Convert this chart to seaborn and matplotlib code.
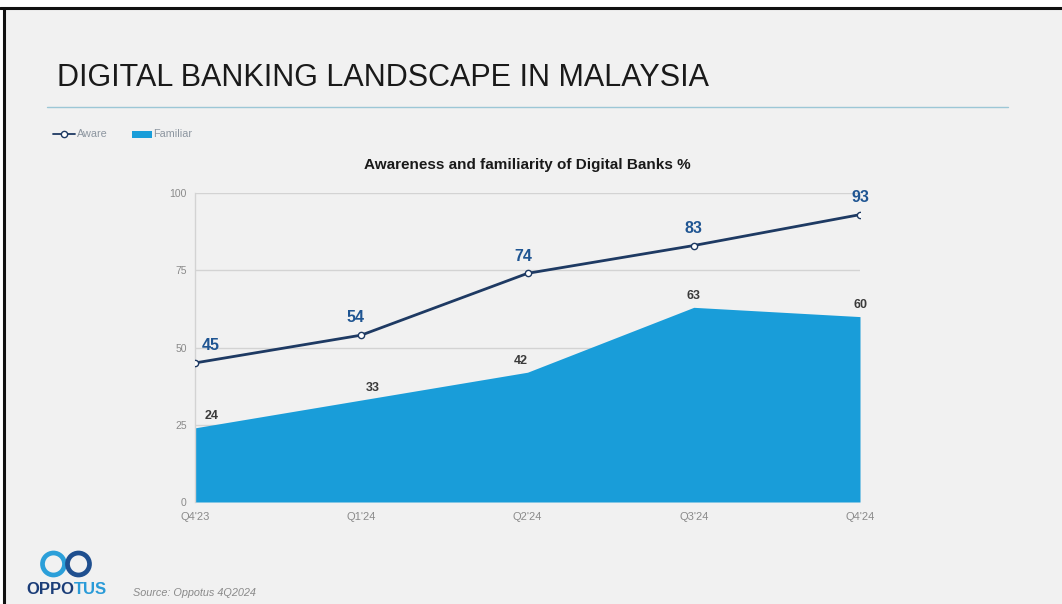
import matplotlib
matplotlib.use("Agg")
import matplotlib.pyplot as plt
import seaborn as sns
import pandas as pd
from matplotlib.patches import Circle, Rectangle
from matplotlib.lines import Line2D
from matplotlib.transforms import IdentityTransform

# Survey waves and scores (%)
quarters = ["Q4'23", "Q1'24", "Q2'24", "Q3'24", "Q4'24"]
aware = [45, 54, 74, 83, 93]
familiar = [24, 33, 42, 63, 60]
y_ticks = [0, 25, 50, 75, 100]

BG = "#f1f1f1"
NAVY_LINE = "#1e3a63"
AWARE_TXT = "#1f5592"
FILL = "#199dd9"
GRID = "#d3d3d3"
TICK_TXT = "#8a8a8a"

W, H = 1062, 604

sns.set_theme(style="white")
plt.rcParams["font.family"] = ["Liberation Sans", "DejaVu Sans"]

df = pd.DataFrame({"quarter": quarters, "x": range(len(quarters)),
                   "Aware": aware, "Familiar": familiar})

fig = plt.figure(figsize=(W / 100, H / 100), dpi=100)
fig.patch.set_facecolor(BG)


def fx(px):
    return px / W


def fy(py):
    return 1 - py / H


# slide frame: white strip along the top and left, dark rule inside it
fig.add_artist(Rectangle((0, fy(7)), 1, 7 / H, transform=fig.transFigure,
                         facecolor="white", edgecolor="none", zorder=0))
fig.add_artist(Rectangle((0, 0), fx(3), 1, transform=fig.transFigure,
                         facecolor="white", edgecolor="none", zorder=0))
fig.add_artist(Line2D([0, 1], [fy(8), fy(8)], transform=fig.transFigure,
                      color="#111111", lw=2.2))
fig.add_artist(Line2D([fx(4), fx(4)], [0, fy(8)], transform=fig.transFigure,
                      color="#111111", lw=2.2))

# slide heading and rule
fig.text(fx(57), fy(78), "DIGITAL BANKING LANDSCAPE IN MALAYSIA",
         fontsize=22, color="#1a1a1a", va="center", ha="left")
fig.add_artist(Line2D([fx(47), fx(1008)], [fy(107), fy(107)],
                      transform=fig.transFigure, color="#9cc7d6", lw=1.0))

# legend
ly = fy(134)
fig.add_artist(Line2D([fx(53), fx(75)], [ly, ly], transform=fig.transFigure,
                      color=NAVY_LINE, lw=1.3))
fig.add_artist(Line2D([fx(64)], [ly], transform=fig.transFigure, color=NAVY_LINE,
                      marker="o", markersize=4.5, markerfacecolor="white", lw=0))
fig.text(fx(77), ly, "Aware", fontsize=7.8, color="#8d96a0", va="center")
fig.add_artist(Rectangle((fx(132), ly - 3.5 / H), 20 / W, 7 / H,
                         transform=fig.transFigure, facecolor=FILL, edgecolor="none"))
fig.text(fx(153), ly, "Familiar", fontsize=7.8, color="#8d96a0", va="center")

# chart axes
ax = fig.add_axes([fx(195), fy(502), (860 - 195) / W, (502 - 193) / H])
ax.set_facecolor(BG)
ax.set_xlim(0, len(quarters) - 1)
ax.set_ylim(0, 100)
ax.margins(0)

for t in y_ticks[1:]:
    ax.axhline(t, color=GRID, lw=1.0, zorder=0)

ax.fill_between(df["x"], 0, df["Familiar"], color=FILL, lw=0, zorder=2)
sns.lineplot(data=df, x="x", y="Aware", ax=ax, color=NAVY_LINE, lw=2.0,
             marker="o", markersize=4.5, markerfacecolor="white",
             markeredgecolor=NAVY_LINE, markeredgewidth=1.0, zorder=3)

# value labels
aware_dx = [11, -4, -3, 0, 0]
for i, v in enumerate(aware):
    ax.annotate(str(v), (i, v), xytext=(aware_dx[i], 7), textcoords="offset points",
                ha="center", va="bottom", fontsize=11.5, fontweight="bold", color=AWARE_TXT)
fam_dx = [12, 8, -5, 0, 0]
for i, v in enumerate(familiar):
    ax.annotate(str(v), (i, v), xytext=(fam_dx[i], 4), textcoords="offset points",
                ha="center", va="bottom", fontsize=9, fontweight="bold", color="#3a3a3a")

ax.set_xticks(range(len(quarters)))
ax.set_xticklabels(quarters)
ax.set_yticks(y_ticks)
ax.set_yticklabels([str(t) for t in y_ticks])
ax.tick_params(axis="both", length=0, labelsize=8, labelcolor=TICK_TXT)
ax.tick_params(axis="y", pad=6, labelsize=7.5)
ax.tick_params(axis="x", pad=7)
ax.set_xlabel("")
ax.set_ylabel("")
for side in ["top", "right", "bottom"]:
    ax.spines[side].set_visible(False)
ax.spines["left"].set_color(GRID)
ax.spines["left"].set_linewidth(1.0)

fig.text(fx(527), fy(165), "Awareness and familiarity of Digital Banks %",
         ha="center", va="center", fontsize=11, fontweight="bold", color="#1a1a1a")

# company mark: two linked rings above the word mark
fig.add_artist(Circle((53.5, H - 564), 11, transform=IdentityTransform(),
                      fill=False, edgecolor="#2b9fd9", lw=3.4))
fig.add_artist(Circle((78.5, H - 564), 11, transform=IdentityTransform(),
                      fill=False, edgecolor="#1f4f8f", lw=3.4))
t1 = fig.text(fx(26), fy(589), "OPPO", fontsize=12, fontweight="bold",
              color="#1b3d78", va="center", ha="left")
fig.canvas.draw()
bb = t1.get_window_extent()
fig.text(bb.x1 / W, fy(589), "TUS", fontsize=12, fontweight="bold",
         color="#2a9bd8", va="center", ha="left")

fig.text(fx(133), fy(593), "Source: Oppotus 4Q2024", fontsize=7.8,
         fontstyle="italic", color="#8a8a8a", va="center", ha="left")

fig.savefig("out.png", dpi=100, facecolor=BG)
